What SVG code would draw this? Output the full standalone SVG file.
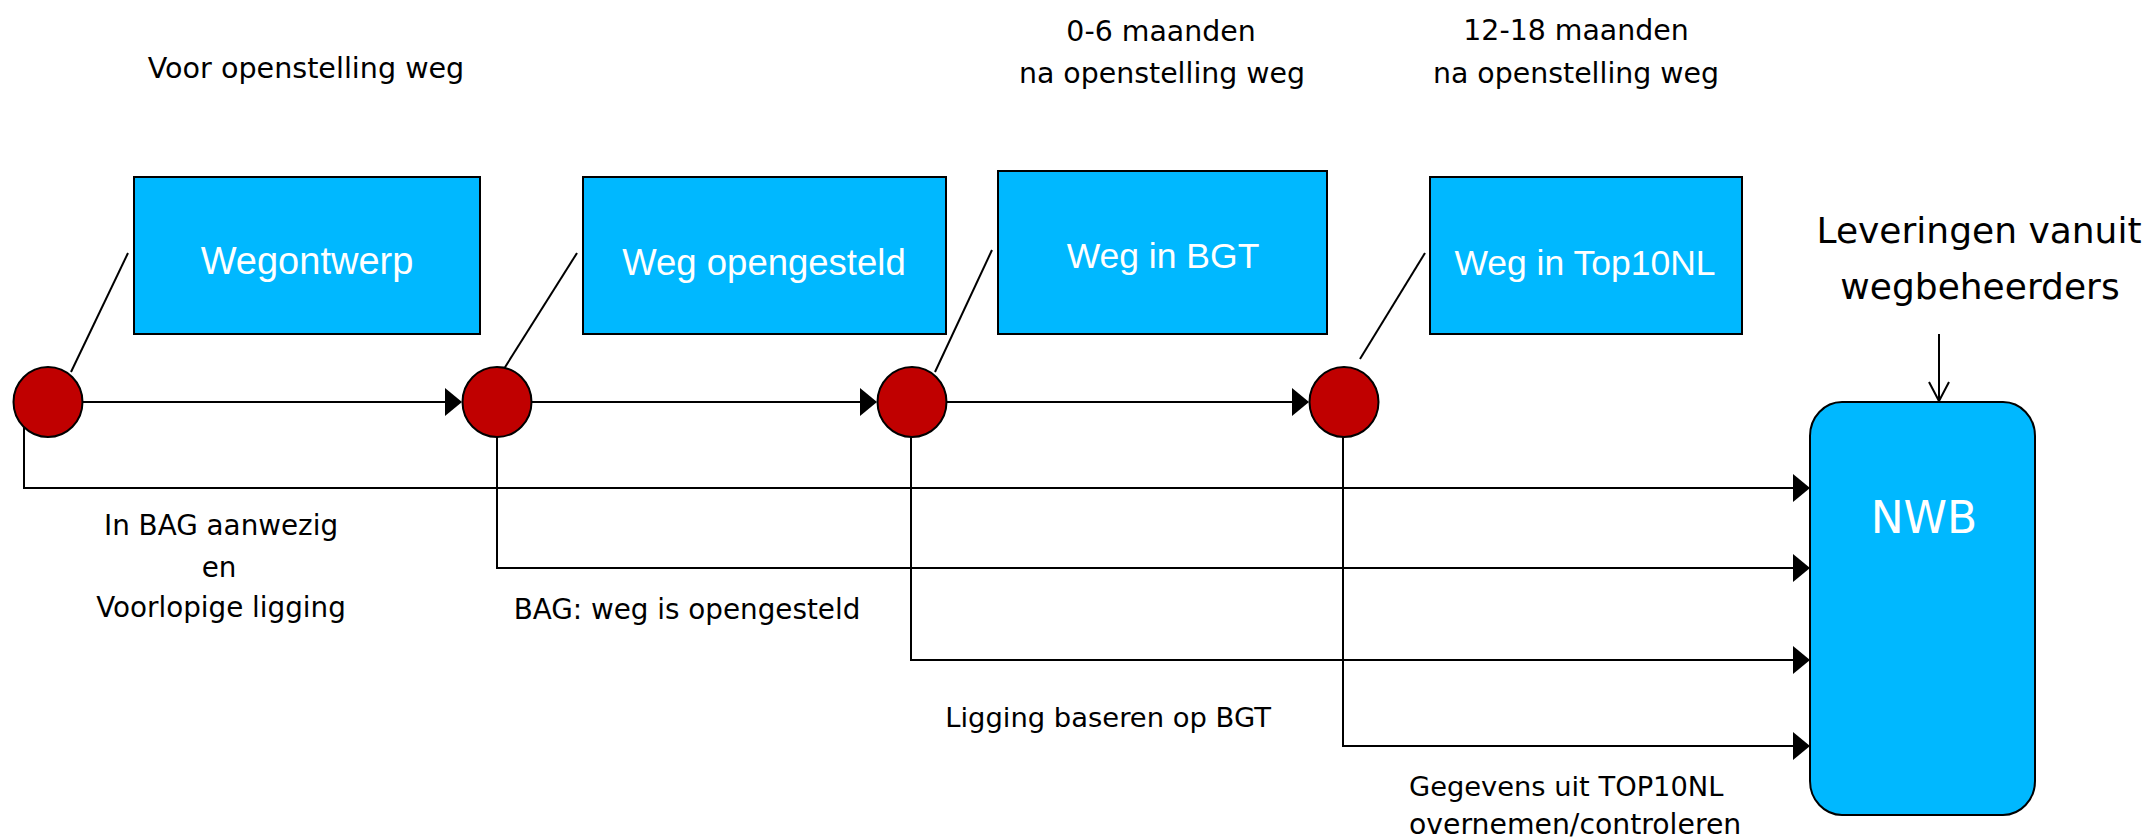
<svg xmlns="http://www.w3.org/2000/svg" width="2151" height="838" viewBox="0 0 2151 838">
  <style>
    .box { fill: #00B8FF; stroke: #000; stroke-width: 2; }
    .dot { fill: #C00000; stroke: #000; stroke-width: 2; }
    .ln { fill: none; stroke: #000; stroke-width: 2; }
    .bt { font-family: "Liberation Sans", Arial, sans-serif; fill: #fff; text-anchor: middle; }
    .lbl { font-family: "DejaVu Sans", Verdana, sans-serif; fill: #000; text-anchor: middle; }
  </style>
  <defs>
    <marker id="ah" markerUnits="userSpaceOnUse" viewBox="0 0 17 28" refX="7" refY="14" markerWidth="17" markerHeight="28" orient="auto">
      <path d="M0,0 L17,14 L0,28 z" fill="#000"/>
    </marker>
    <marker id="open" markerUnits="userSpaceOnUse" viewBox="0 0 24 22" refX="20" refY="11" markerWidth="24" markerHeight="22" orient="auto">
      <path d="M1,1 L20,11 L1,21" fill="none" stroke="#000" stroke-width="2"/>
    </marker>
  </defs>
  <rect width="2151" height="838" fill="#fff"/>

  <g id="connectors">
    <!-- timeline -->
    <line class="ln" x1="83" y1="402" x2="452" y2="402" marker-end="url(#ah)"/>
    <line class="ln" x1="532" y1="402" x2="867" y2="402" marker-end="url(#ah)"/>
    <line class="ln" x1="947" y1="402" x2="1299" y2="402" marker-end="url(#ah)"/>
    <!-- leaders -->
    <line class="ln" x1="71" y1="372" x2="128" y2="253"/>
    <line class="ln" x1="502" y1="372" x2="577" y2="253"/>
    <line class="ln" x1="935" y1="372" x2="992" y2="250"/>
    <line class="ln" x1="1360" y1="359" x2="1425" y2="253"/>
    <!-- drops to NWB -->
    <polyline class="ln" points="24,420 24,488 1800,488" marker-end="url(#ah)"/>
    <polyline class="ln" points="497,430 497,568 1800,568" marker-end="url(#ah)"/>
    <polyline class="ln" points="911,430 911,660 1800,660" marker-end="url(#ah)"/>
    <polyline class="ln" points="1343,430 1343,746 1800,746" marker-end="url(#ah)"/>
    <!-- deliveries -->
    <line class="ln" x1="1939" y1="334" x2="1939" y2="401" marker-end="url(#open)"/>
  </g>

  <g id="labels">
    <text class="lbl" x="306" y="78" font-size="28.6">Voor openstelling weg</text>
    <text class="lbl" x="1161" y="41" font-size="28.4">0-6 maanden</text>
    <text class="lbl" x="1162" y="83" font-size="28.4">na openstelling weg</text>
    <text class="lbl" x="1576" y="40" font-size="28.4">12-18 maanden</text>
    <text class="lbl" x="1576" y="83" font-size="28.4">na openstelling weg</text>
    <text class="lbl" x="1979" y="243" font-size="36">Leveringen vanuit</text>
    <text class="lbl" x="1980" y="299" font-size="36">wegbeheerders</text>
    <text class="lbl" x="221" y="535" font-size="27.8">In BAG aanwezig</text>
    <text class="lbl" x="219" y="577" font-size="27.8">en</text>
    <text class="lbl" x="221" y="617" font-size="27.8">Voorlopige ligging</text>
    <text class="lbl" x="687" y="619" font-size="27.8">BAG: weg is opengesteld</text>
    <text class="lbl" x="1108" y="727" font-size="27.4">Ligging baseren op BGT</text>
    <text class="lbl" x="1409" y="796" font-size="27.3" style="text-anchor:start">Gegevens uit TOP10NL</text>
    <text class="lbl" x="1409" y="834" font-size="28.3" style="text-anchor:start">overnemen/controleren</text>
  </g>

  <g id="wegontwerp">
    <rect class="box" x="134" y="177" width="346" height="157"/>
    <text class="bt" x="307" y="274" font-size="38">Wegontwerp</text>
  </g>
  <g id="weg-opengesteld">
    <rect class="box" x="583" y="177" width="363" height="157"/>
    <text class="bt" x="764" y="275" font-size="36.5">Weg opengesteld</text>
  </g>
  <g id="weg-in-bgt">
    <rect class="box" x="998" y="171" width="329" height="163"/>
    <text class="bt" x="1163" y="268" font-size="35.5">Weg in BGT</text>
  </g>
  <g id="weg-in-top10nl">
    <rect class="box" x="1430" y="177" width="312" height="157"/>
    <text class="bt" x="1585" y="275" font-size="35.5">Weg in Top10NL</text>
  </g>

  <g id="event-1"><ellipse class="dot" cx="48" cy="402" rx="34.5" ry="35"/></g>
  <g id="event-2"><ellipse class="dot" cx="497" cy="402" rx="34.5" ry="35"/></g>
  <g id="event-3"><ellipse class="dot" cx="912" cy="402" rx="34.5" ry="35"/></g>
  <g id="event-4"><ellipse class="dot" cx="1344" cy="402" rx="34.5" ry="35"/></g>

  <g id="nwb">
    <rect class="box" x="1810" y="402" width="225" height="413" rx="32" ry="34"/>
    <text class="lbl" x="1924" y="533" font-size="44" style="fill:#fff">NWB</text>
  </g>
</svg>
